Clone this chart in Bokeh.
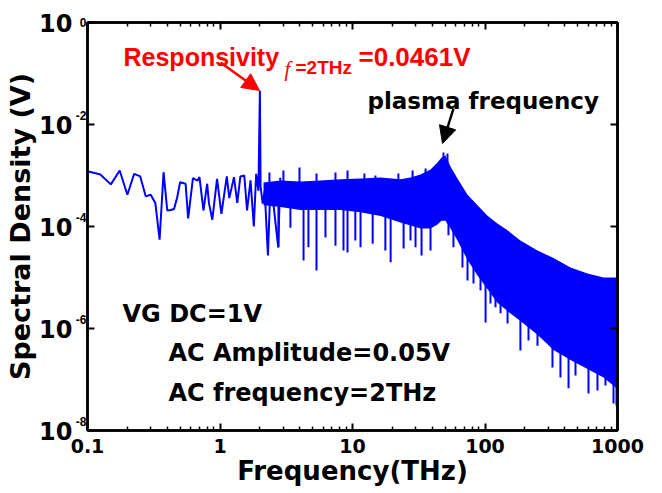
import numpy as np
from bokeh.plotting import figure
from bokeh.models import (Range1d, LogAxis, FixedTicker, CustomJSTickFormatter,
                          Label, Arrow, NormalHead)
from bokeh.embed import file_html
from bokeh.resources import INLINE

# ---------------- data ----------------
# sparse low-frequency part of the spectrum (THz, V)
low_f = [0.1, 0.125, 0.15, 0.175, 0.2, 0.225, 0.25, 0.275, 0.3, 0.325, 0.35, 0.375,
         0.4, 0.425, 0.45, 0.475, 0.5, 0.55, 0.575, 0.625, 0.675, 0.7, 0.75, 0.8,
         0.825, 0.875, 0.95, 1.025, 1.125, 1.175, 1.275, 1.35, 1.425, 1.525, 1.6,
         1.7, 1.8, 1.875, 1.95, 1.975, 2.0, 2.025, 2.1, 2.175, 2.3, 2.4, 2.55,
         2.75, 2.85]
low_v = [1.21e-3, 1.05e-3, 6.7e-4, 1.25e-3, 4.2e-4, 1.08e-3, 9.6e-4, 3.9e-4, 4.2e-4,
         2.9e-4, 5.5e-5, 1.16e-3, 2.06e-4, 2.1e-4, 2.2e-4, 3.7e-4, 7.4e-4, 6.9e-4,
         1.44e-4, 8.9e-4, 7.9e-4, 9.3e-4, 2.06e-4, 6.9e-4, 2.9e-4, 1.36e-4, 8.6e-4,
         1.77e-4, 9.6e-4, 3.6e-4, 9.3e-4, 2.9e-4, 9.6e-4, 1.0e-3, 2.06e-4, 8.0e-4,
         1.0e-4, 1.08e-3, 5.0e-4, 4.9e-3, 0.0461, 6.0e-4, 2.8e-4, 5.0e-4, 2.7e-5,
         5.9e-4, 2.3e-4, 3.9e-5, 9.0e-4]

# dense part: envelope of the filled band
band_f = [2.13, 2.86, 4.05, 5.73, 8.12, 11.5, 16.3, 23.0, 27.4, 32.6, 38.8, 43.8,
          47.0, 50.3, 54.9, 62.0, 73.8, 87.8, 104, 124, 148, 185, 249, 329, 442,
          594, 784, 1000]
band_hi = [7.3e-4, 8.0e-4, 7.6e-4, 8.0e-4, 8.4e-4, 8.7e-4, 9.1e-4, 8.4e-4, 9.1e-4,
           1.05e-3, 1.31e-3, 1.80e-3, 2.25e-3, 2.47e-3, 1.50e-3, 8.7e-4, 4.2e-4,
           2.6e-4, 1.64e-4, 1.15e-4, 8.4e-5, 5.3e-5, 3.4e-5, 2.4e-5, 1.57e-5,
           1.2e-5, 1.0e-5, 1.0e-5]
band_lo = [2.6e-4, 2.4e-4, 2.1e-4, 2.1e-4, 2.1e-4, 1.9e-4, 1.6e-4, 1.2e-4, 1.05e-4,
           9.1e-5, 9.1e-5, 1.1e-4, 1.3e-4, 1.3e-4, 9.1e-5, 5.3e-5, 2.2e-5, 1.1e-5,
           6.0e-6, 3.2e-6, 2.2e-6, 1.4e-6, 7.5e-7, 3.8e-7, 2.4e-7, 1.6e-7, 1.1e-7,
           6.5e-8]

# downward spikes below the band
spike_f = [2.76, 3.40, 4.27, 4.65, 5.35, 6.25, 7.44, 8.55, 9.17, 10.5, 11.5, 14.2,
           17.7, 19.4, 24.3, 27.4, 29.9, 33.2, 38.8, 53.0, 57.8, 67.6, 73.8, 81.9,
           92.5, 101, 110, 120, 131, 148, 185, 213, 249, 323, 371, 427, 482, 604,
           706, 811, 933, 982]
spike_top = [2.5e-4, 2.5e-4, 2.5e-4, 2.5e-4, 2.5e-4, 2.5e-4, 2.5e-4, 2.5e-4, 2.5e-4,
             2.5e-4, 2.5e-4, 2.5e-4, 2.5e-4, 2.5e-4, 2.5e-4, 2.5e-4, 2.5e-4, 2.5e-4,
             2.5e-4, 2.0e-4, 1.5e-4, 1.0e-4, 6.0e-5, 4.0e-5, 3.0e-5, 2.5e-5, 2.0e-5,
             1.5e-5, 1.2e-5, 1.0e-5, 6.0e-6, 5.0e-6, 4.0e-6, 2.5e-6, 2.0e-6, 1.6e-6,
             1.4e-6, 1.2e-6, 1.0e-6, 9.0e-7, 8.0e-7, 8.0e-7]
spike_lo = [3.9e-5, 9.5e-5, 2.15e-5, 3.9e-5, 1.37e-5, 6.1e-5, 4.2e-5, 3.4e-5, 3.1e-5,
            5.3e-5, 3.9e-5, 4.6e-5, 3.4e-5, 2.0e-5, 3.7e-5, 5.3e-5, 3.9e-5, 2.7e-5,
            3.4e-5, 6.7e-5, 3.9e-5, 1.57e-5, 8.7e-6, 7.6e-6, 5.6e-6, 1.31e-6, 3.1e-6,
            2.6e-6, 2.0e-6, 1.25e-6, 3.7e-7, 5.8e-7, 4.6e-7, 1.72e-7, 1.09e-7, 6.7e-8,
            1.2e-7, 5.3e-8, 6.1e-8, 7.6e-8, 3.4e-8, 3.1e-8]

# upward peaks above the band
peak_f = [2.36, 3.01, 3.98, 5.35, 7.44, 9.17, 12.3, 14.9, 22.2, 28.4, 35.6, 48.6, 52.1]
peak_base = [6e-4, 6e-4, 6e-4, 6e-4, 6e-4, 6e-4, 6e-4, 6e-4, 6e-4, 6e-4, 8e-4, 1.5e-3, 1.5e-3]
peak_v = [1.15e-3, 1.25e-3, 1.44e-3, 1.09e-3, 1.15e-3, 1.25e-3, 1.09e-3, 1.0e-3,
          1.09e-3, 1.25e-3, 1.37e-3, 2.83e-3, 2.70e-3]

x_ticks = [0.1, 1, 10, 100, 1000]
x_tick_labels = ["0.1", "1", "10", "100", "1000"]
y_ticks = [1e-8, 1e-6, 1e-4, 1e-2, 1]
y_tick_base = "10"
y_tick_exponents = ["-8", "-6", "-4", "-2", "0"]
x_minor = [m * 10.0 ** e for e in range(-1, 3) for m in range(2, 10)]

# ---------------- layout ----------------
W, H = 662, 493
L, R, T, B = 87, 617, 22, 430
PX_PER_DECADE_Y = (B - T) / 8


def fx(px):
    return 10 ** (-1 + (px - L) / (R - L) * 4)


def fy(py):
    return 10 ** (-(py - T) / (B - T) * 8)


BLUE = "#0000FF"
RED = "#FF0000"
SANS = "DejaVu Sans"

p = figure(width=W, height=H, x_axis_type="log", y_axis_type="log",
           x_range=Range1d(0.1, 1000), y_range=Range1d(1e-8, 1),
           output_backend="svg", toolbar_location=None,
           min_border_left=L, min_border_right=W - R,
           min_border_top=T, min_border_bottom=H - B)
p.grid.visible = False
p.background_fill_color = "white"
p.border_fill_color = "white"
p.outline_line_color = "black"
p.outline_line_width = 2.5

# ---- bottom x axis ----
xa = p.xaxis[0]
xa.ticker = FixedTicker(ticks=x_ticks, minor_ticks=x_minor)
xa.formatter = CustomJSTickFormatter(args=dict(xt=x_ticks, xl=x_tick_labels),
                                     code="const i = xt.indexOf(tick); return i >= 0 ? xl[i] : '';")
xa.axis_line_width = 2.5
xa.major_tick_in = 7
xa.major_tick_out = 0
xa.minor_tick_in = 4
xa.minor_tick_out = 0
xa.major_tick_line_width = 2
xa.minor_tick_line_width = 1.5
xa.major_label_text_font = SANS
xa.major_label_text_font_style = "bold"
xa.major_label_text_color = "black"
xa.major_label_text_font_size = "19px"
xa.major_label_standoff = 8
xa.axis_label = "Frequency(THz)"
xa.axis_label_text_font = SANS
xa.axis_label_text_font_style = "bold"
xa.axis_label_text_color = "black"
xa.axis_label_text_font_size = "26px"
xa.axis_label_standoff = 0

# ---- left y axis, inner part: axis line, tick marks (at the decades) and
#      the superscript exponents, raised 9 px above each decade ----
sup_pos = [min(t * 10 ** (9 / PX_PER_DECADE_Y), y_ticks[-1]) for t in y_ticks]
ya = p.yaxis[0]
ya.ticker = FixedTicker(ticks=sup_pos, minor_ticks=y_ticks)
ya.formatter = CustomJSTickFormatter(args=dict(yt=sup_pos, yl=y_tick_exponents),
                                     code="const i = yt.indexOf(tick); return i >= 0 ? yl[i] : '';")
ya.axis_line_width = 2.5
ya.major_tick_in = 0
ya.major_tick_out = 0
ya.minor_tick_in = 7
ya.minor_tick_out = 0
ya.minor_tick_line_width = 2
ya.major_label_text_font = "Liberation Sans"
ya.major_label_text_font_style = "bold"
ya.major_label_text_font_size = "12px"
ya.major_label_text_color = "black"
ya.major_label_standoff = 1

# ---- left y axis, outer part: the "10" bases and the title ----
ya10 = LogAxis(ticker=FixedTicker(ticks=y_ticks, minor_ticks=[]),
               formatter=CustomJSTickFormatter(args=dict(b=y_tick_base), code="return b;"),
               axis_line_color=None, major_tick_in=0, major_tick_out=0,
               minor_tick_in=0, minor_tick_out=0, major_label_standoff=0,
               major_label_text_font=SANS, major_label_text_font_style="bold",
               major_label_text_font_size="24px", major_label_text_color="black",
               axis_label="Spectral Density (V)", axis_label_text_font=SANS,
               axis_label_text_font_style="bold", axis_label_text_font_size="27px",
               axis_label_text_color="black", axis_label_standoff=0)
p.add_layout(ya10, "left")

# ---- mirrored top / right axes ----
top = LogAxis(ticker=FixedTicker(ticks=x_ticks, minor_ticks=x_minor),
              formatter=CustomJSTickFormatter(code="return '';"),
              major_label_text_font_size="2px",
              major_label_text_alpha=0, major_label_standoff=0,
              axis_line_width=2.5, major_tick_in=7, major_tick_out=0,
              minor_tick_in=4, minor_tick_out=0, major_tick_line_width=2,
              minor_tick_line_width=1.5)
right = LogAxis(ticker=FixedTicker(ticks=y_ticks, minor_ticks=[]),
                formatter=CustomJSTickFormatter(code="return '';"),
                major_label_text_font_size="2px",
                major_label_text_alpha=0, major_label_standoff=0,
                axis_line_width=2.5, major_tick_in=7, major_tick_out=0,
                minor_tick_in=0, minor_tick_out=0, major_tick_line_width=2)
p.add_layout(top, "above")
p.add_layout(right, "right")

# ---------------- spectrum ----------------
p.varea(x=band_f, y1=band_lo, y2=band_hi, fill_color=BLUE)
p.segment(x0=spike_f, y0=spike_top, x1=spike_f, y1=spike_lo,
          line_color=BLUE, line_width=2)
p.segment(x0=peak_f, y0=peak_base, x1=peak_f, y1=peak_v,
          line_color=BLUE, line_width=2)
p.line(low_f, low_v, line_color=BLUE, line_width=2)


# ---------------- annotations ----------------
def add_text(px, py, text, size, color="black", font=SANS, style="bold"):
    p.add_layout(Label(x=fx(px), y=fy(py), text=text, text_font=font,
                       text_font_style=style, text_font_size=size,
                       text_color=color, text_align="left",
                       text_baseline="alphabetic"))


add_text(123, 56, "Responsivity", "25px", RED, "Liberation Sans")
add_text(284, 68, "f", "21px", RED, "Liberation Serif", "italic")
add_text(295, 67, "=2THz", "19px", RED, "Liberation Sans")
add_text(358, 56, "=%.4fV" % 0.0461, "26px", RED, "Liberation Sans")

add_text(367, 100, "plasma frequency", "23px")
add_text(122, 313, "VG DC=1V", "24px")
add_text(168, 352, "AC Amplitude=0.05V", "24px")
add_text(168, 392, "AC frequency=2THz", "24px")

p.add_layout(Arrow(end=NormalHead(size=17, fill_color=RED, line_color=RED),
                   x_start=fx(220), y_start=fy(62), x_end=fx(259), y_end=fy(90),
                   line_color=RED, line_width=2.5))
p.add_layout(Arrow(end=NormalHead(size=17, fill_color="black", line_color="black"),
                   x_start=fx(453), y_start=fy(108), x_end=fx(442), y_end=fy(143),
                   line_color="black", line_width=2.5))

open("out.html", "w").write(file_html(p, INLINE))
